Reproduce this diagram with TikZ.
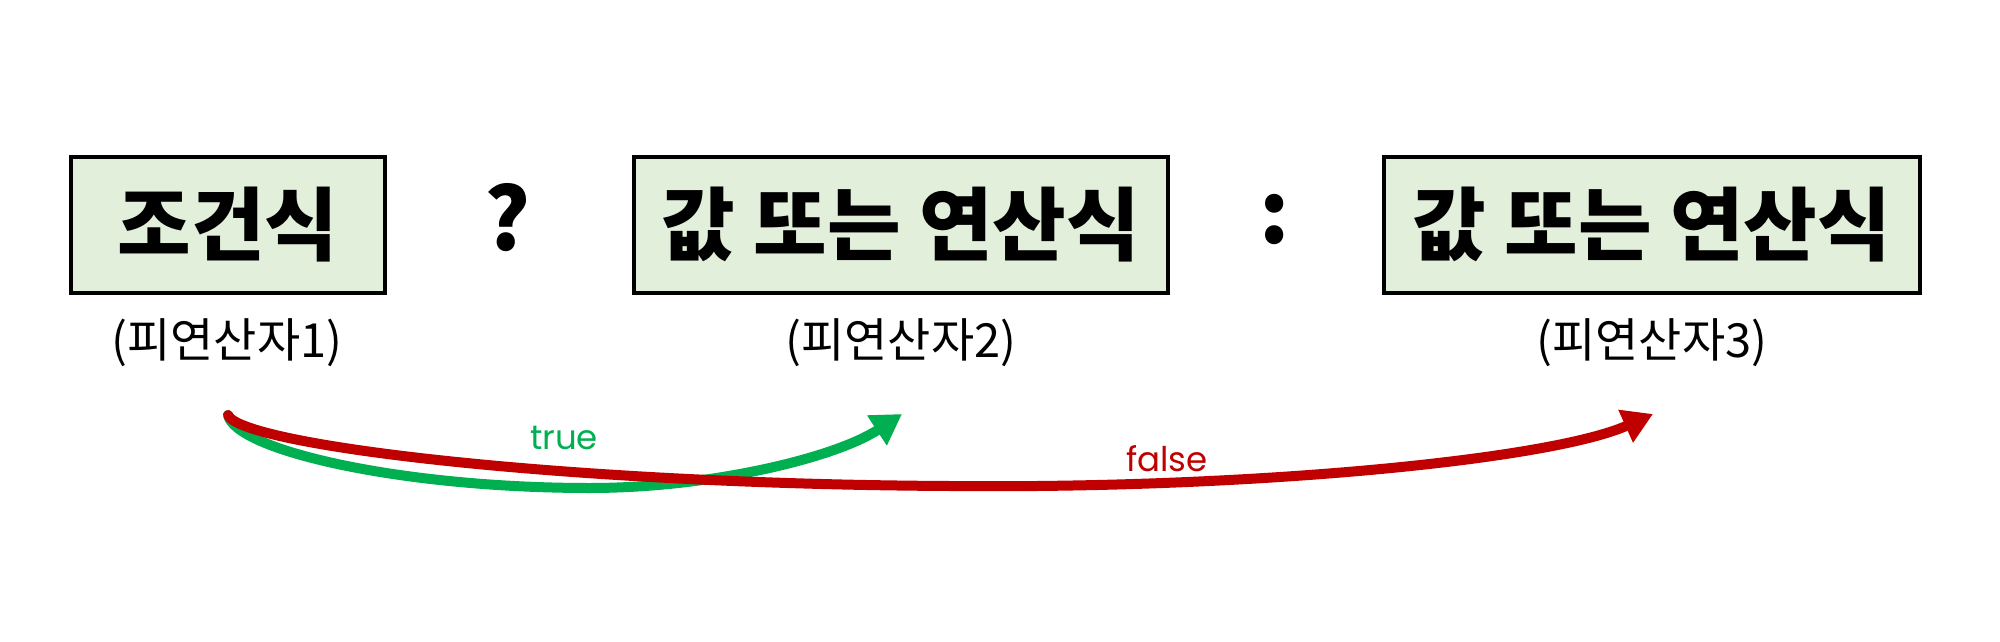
\documentclass[tikz,border=0pt]{standalone}
\usepackage{fontspec}
\usetikzlibrary{arrows.meta}
\newfontfamily\kr{Noto Sans CJK KR}
\newfontfamily\krb{Noto Sans CJK KR Black}
\newfontfamily\pop{Poppins}
\definecolor{boxfill}{HTML}{E2EFDA}
\definecolor{tgreen}{HTML}{00B050}
\definecolor{fred}{HTML}{C00000}
\tikzset{
  opbox/.style={draw=black, line width=3.5pt, fill=boxfill, minimum height=136pt, inner sep=0pt,
    font=\krb\fontsize{80}{90}\selectfont},
  oplabel/.style={font=\kr\fontsize{47}{56}\selectfont, inner sep=0pt},
  sym/.style={font=\krb\fontsize{86}{96}\selectfont, inner sep=0pt},
  flow/.style={line width=10pt, line cap=round, -{Triangle[length=30pt,width=34pt]}},
  flowlabel/.style={font=\pop\fontsize{34}{40}\selectfont, inner sep=0pt}
}
\begin{document}
\begin{tikzpicture}[x=1pt,y=-1pt]
\useasboundingbox (0,0) rectangle (2000,642);
\node[opbox, minimum width=314pt] (b1) at (228,225) {조건식};
\node[opbox, minimum width=534pt] (b2) at (901,225) {값 또는 연산식};
\node[opbox, minimum width=536pt] (b3) at (1652,225) {값 또는 연산식};
\node[sym] (q) at (508,218) {?};
\node[sym] (c) at (1275,220) {:};
\node[oplabel] (l1) at (227,343) {(피연산자1)};
\node[oplabel] (l2) at (901,343) {(피연산자2)};
\node[oplabel] (l3) at (1652,343) {(피연산자3)};
\coordinate (s) at (228,415);
\coordinate (gm) at (590,488);
\coordinate (t2) at (902,414);
\coordinate (rm) at (950,486);
\coordinate (t3) at (1653,414);
\draw[flow, tgreen] (s) .. controls (235,450) and (400,488) .. (gm) .. controls (710,488) and (835,458) .. (t2);
\draw[flow, fred] (s) .. controls (240,445) and (560,484) .. (rm) .. controls (1250,489) and (1550,460) .. (t3);
\node[flowlabel, text=tgreen] (tl) at (564,438) {true};
\node[flowlabel, text=fred] (fl) at (1167,459) {false};
\end{tikzpicture}
\end{document}
